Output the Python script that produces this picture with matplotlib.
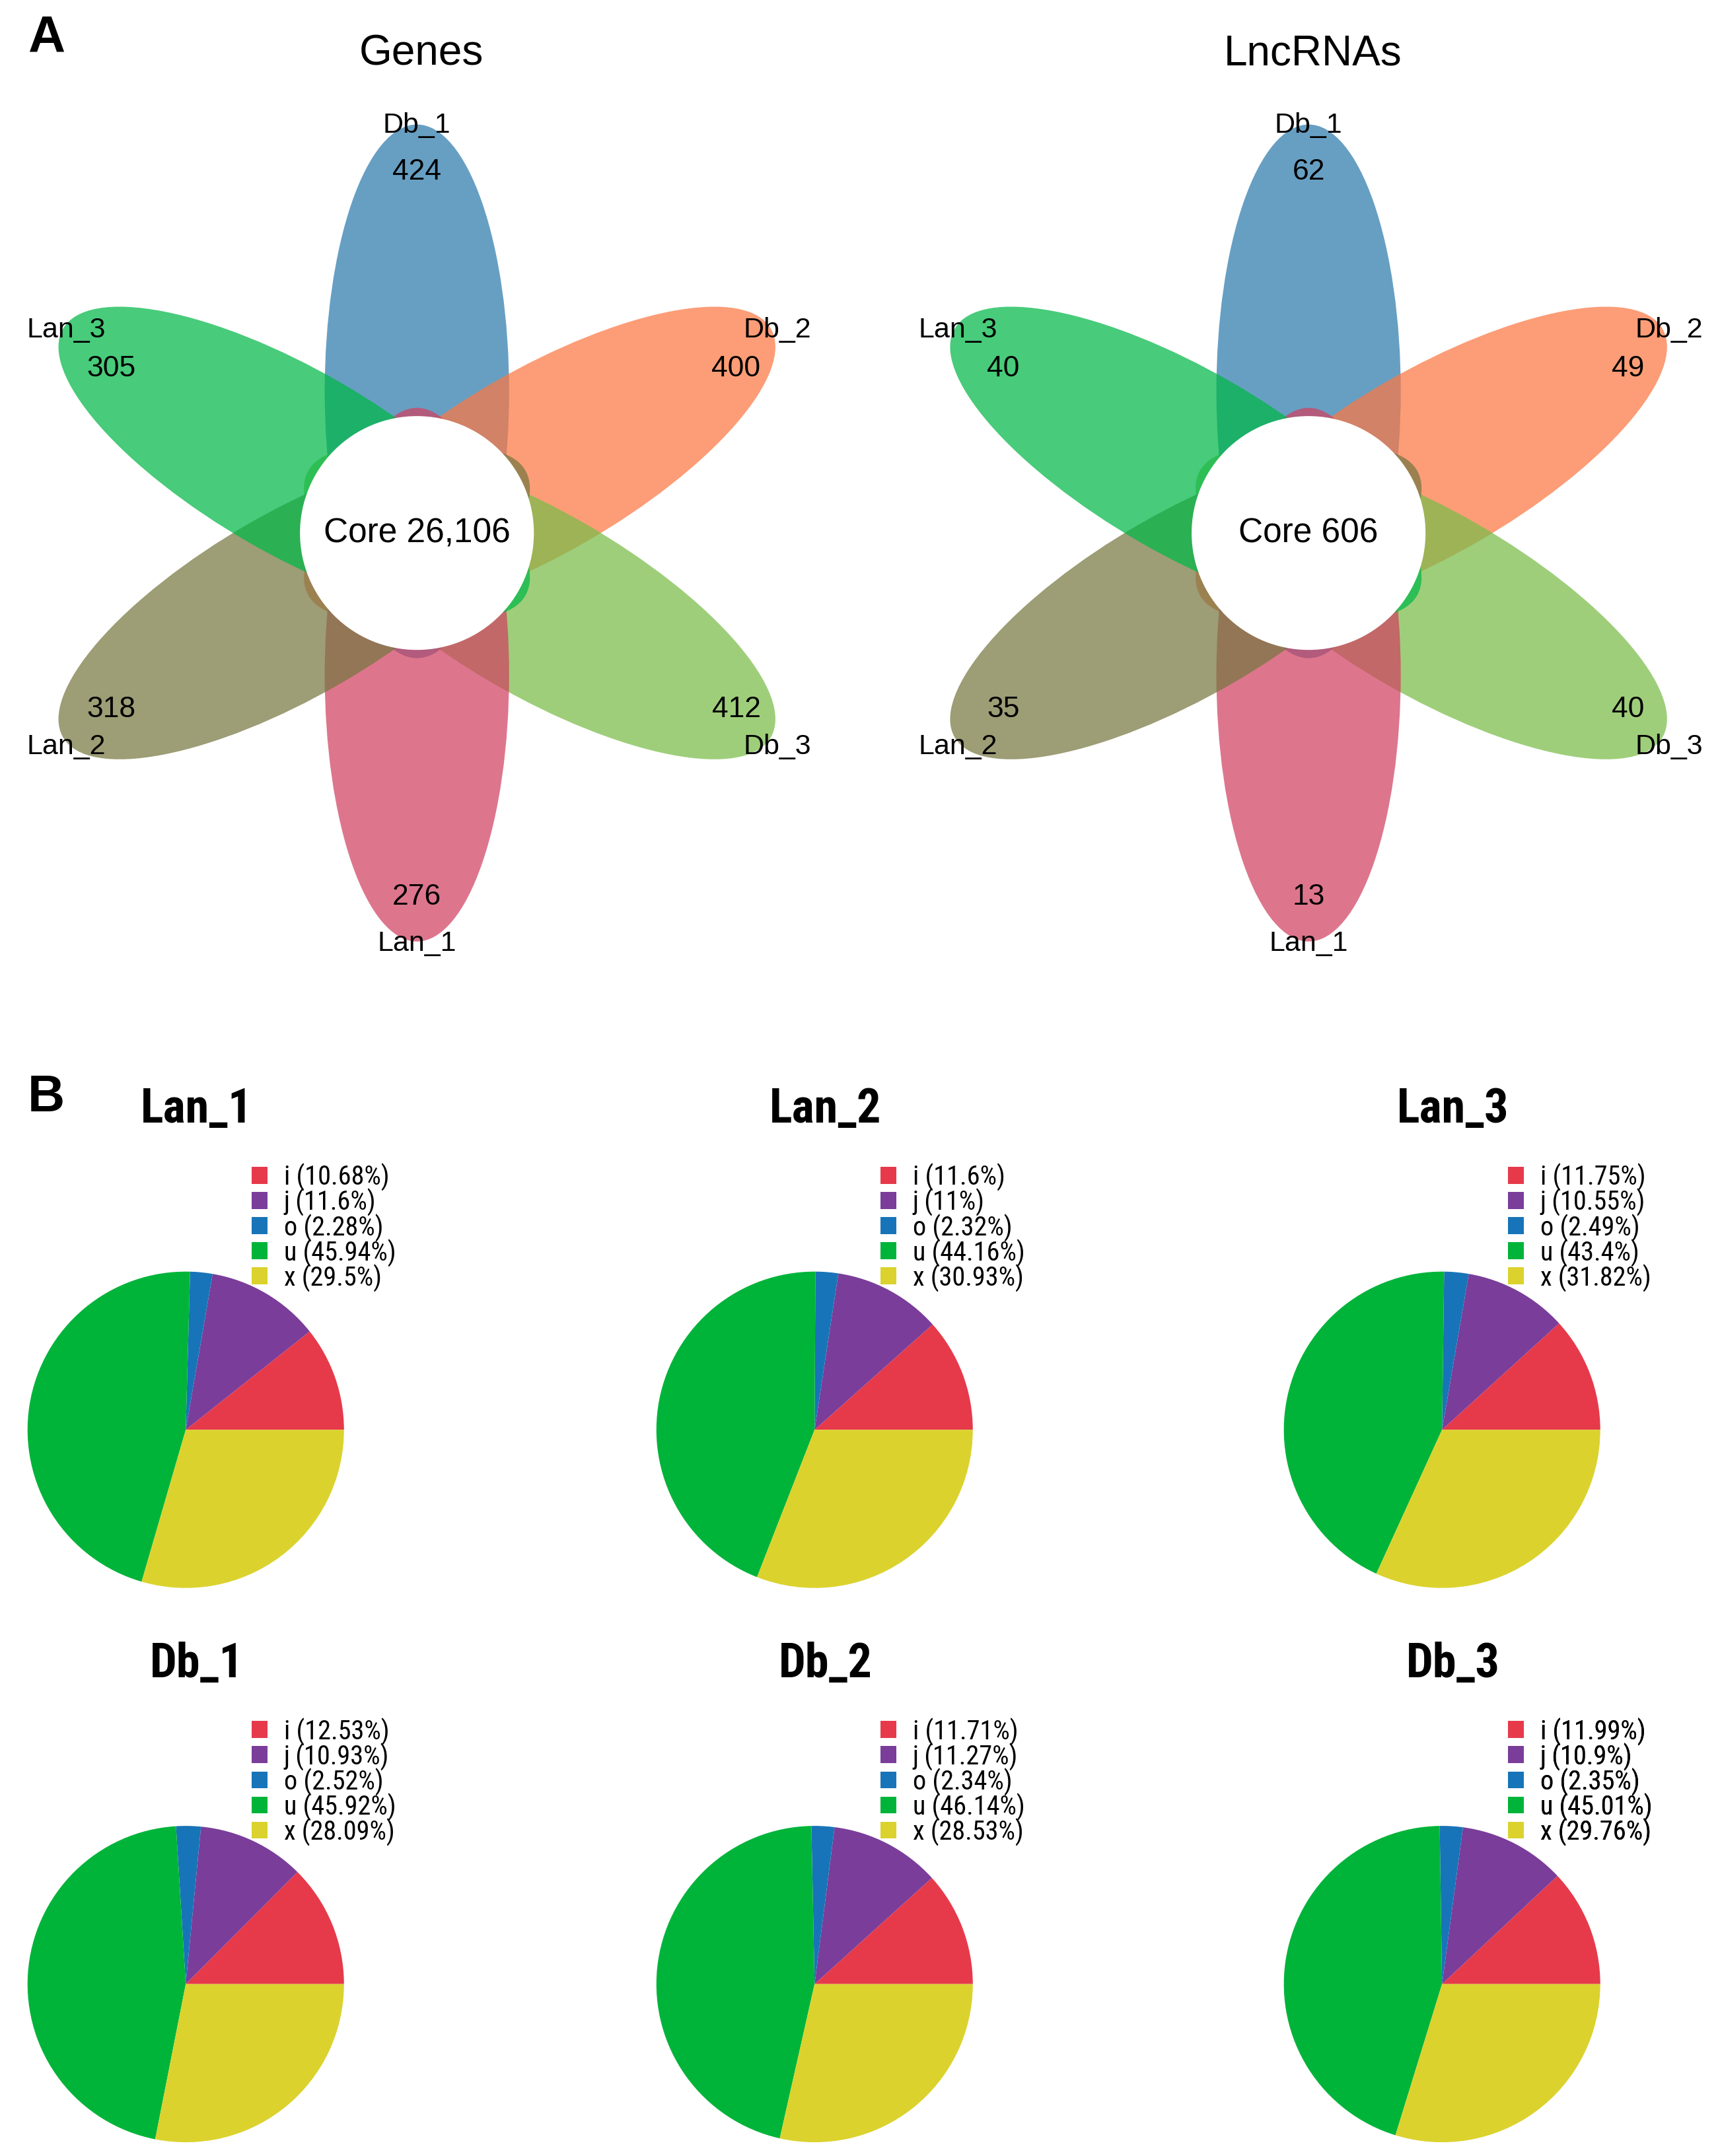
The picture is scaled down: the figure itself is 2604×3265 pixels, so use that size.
import math
import matplotlib
matplotlib.use("Agg")
import matplotlib.pyplot as plt
from matplotlib.patches import Ellipse, Circle
from matplotlib import font_manager

# ---- data ----
sets = ["Db_1", "Db_2", "Db_3", "Lan_1", "Lan_2", "Lan_3"]
gene_counts = [424, 400, 412, 276, 318, 305]
gene_core = 26106
lnc_counts = [62, 49, 40, 13, 35, 40]
lnc_core = 606

classes = ["i", "j", "o", "u", "x"]
pie_names = ["Lan_1", "Lan_2", "Lan_3", "Db_1", "Db_2", "Db_3"]
lan_1 = [10.68, 11.6, 2.28, 45.94, 29.5]
lan_2 = [11.6, 11, 2.32, 44.16, 30.93]
lan_3 = [11.75, 10.55, 2.49, 43.4, 31.82]
db_1 = [12.53, 10.93, 2.52, 45.92, 28.09]
db_2 = [11.71, 11.27, 2.34, 46.14, 28.53]
db_3 = [11.99, 10.9, 2.35, 45.01, 29.76]
pie_values = [lan_1, lan_2, lan_3, db_1, db_2, db_3]

# ---- style ----
petal_colors = ["#2d7aac", "#fc7743", "#7abc48", "#d04161", "#777741", "#01b847"]
petal_angles = [90, 30, -30, -90, -150, 150]
pie_colors = ["#e63a4b", "#7a3d9a", "#1874b8", "#00b43a", "#dbd22e"]


# look for a narrow / condensed sans face for the pie panel
def find_narrow(bold):
    best = None
    for f in font_manager.fontManager.ttflist:
        narrowish = ("Narrow" in f.name or "Condensed" in f.name
                     or f.stretch in ("condensed", "semi-condensed", "extra-condensed"))
        if not narrowish or "Mono" in f.name or "Serif" in f.name:
            continue
        w = f.weight if isinstance(f.weight, int) else (700 if "bold" in str(f.weight) else 400)
        if (w >= 600) != bold or f.style != "normal":
            continue
        best = f.fname
        if "Liberation" in f.name or "Roboto" in f.name:
            break
    if best:
        return font_manager.FontProperties(fname=best)
    return font_manager.FontProperties(family="DejaVu Sans",
                                       weight="bold" if bold else "normal")


narrow_reg = find_narrow(False)
narrow_bold = find_narrow(True)
plt.rcParams["font.family"] = ["Liberation Sans", "DejaVu Sans"]

W, H = 1250, 1568
fig = plt.figure(figsize=(13.02, 16.33), dpi=200)
ax = fig.add_axes([0, 0, 1, 1])
ax.set_xlim(0, W)
ax.set_ylim(H, 0)
ax.axis("off")

# label offsets relative to flower centre (name, number)
name_off = [(0, -297), (262, -148), (262, 155), (0, 298), (-255, 155), (-255, -148)]
num_off = [(0, -263), (232, -120), (232, 128), (0, 264), (-222, 128), (-222, -120)]


def flower(cx, cy, counts, core, title):
    d, a, b = 103, 194, 67
    for ang, col in zip(petal_angles, petal_colors):
        t = math.radians(ang)
        ex = cx + d * math.cos(t)
        ey = cy - d * math.sin(t)
        ax.add_patch(Ellipse((ex, ey), 2 * a, 2 * b, angle=-ang,
                             facecolor=col, edgecolor="none", alpha=0.72))
    ax.add_patch(Circle((cx, cy), 85, facecolor="white", edgecolor="none"))
    ax.text(cx, cy, f"Core {core:,}", ha="center", va="center", fontsize=18.5)
    for name, n, (nx, ny), (mx, my) in zip(sets, counts, name_off, num_off):
        ax.text(cx + nx, cy + ny, name, ha="center", va="center", fontsize=15.5)
        ax.text(cx + mx, cy + my, str(n), ha="center", va="center", fontsize=16)
    ax.text(cx + 3, 39, title, ha="center", va="center", fontsize=23)


flower(303, 388, gene_counts, gene_core, "Genes")
flower(951, 388, lnc_counts, lnc_core, "LncRNAs")
ax.text(20, 28, "A", ha="left", va="center", fontsize=28, fontweight="bold")
ax.text(20, 798, "B", ha="left", va="center", fontsize=28, fontweight="bold")

# ---- pies ----
pie_cx = [135, 592, 1048]
pie_cy = [1040, 1443]
r = 115
title_fp = narrow_bold.copy()
title_fp.set_size(26)
leg_fp = narrow_reg.copy()
leg_fp.set_size(14.5)
for k, (name, vals) in enumerate(zip(pie_names, pie_values)):
    px = pie_cx[k % 3]
    py = pie_cy[k // 3]
    pax = fig.add_axes([(px - r) / W, 1 - (py + r) / H, 2 * r / W, 2 * r / H])
    wedges, _ = pax.pie(vals, colors=pie_colors, startangle=0, counterclock=True,
                        radius=1, wedgeprops=dict(linewidth=0))
    pax.set_xlim(-1, 1)
    pax.set_ylim(-1, 1)
    pax.set_aspect("equal")
    pax.axis("off")
    ax.text(px + 8, py - 233, name, ha="center", va="center", fontproperties=title_fp)
    labels = [f"{c} ({v:g}%)" for c, v in zip(classes, vals)]
    ax.legend(wedges, labels, loc="upper left",
              bbox_to_anchor=((px + 48) / W, 1 - (py - 194) / H),
              bbox_transform=fig.transFigure, frameon=False,
              borderaxespad=0, borderpad=0, handlelength=0.6, handleheight=0.6,
              handletextpad=0.6, labelspacing=-0.1, prop=leg_fp)
    ax.add_artist(ax.get_legend())

fig.savefig("out.png", dpi=200)
